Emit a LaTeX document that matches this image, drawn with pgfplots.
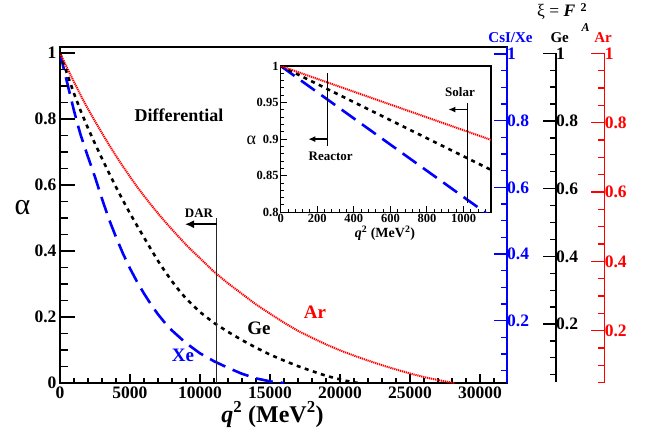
\documentclass[border=0pt]{standalone}
\usepackage{fontspec}
\setmainfont{Liberation Serif}
\usepackage{pgfplots}
\usepackage{pgfplotstable}
\pgfplotsset{compat=1.18}
\usetikzlibrary{arrows.meta}

\pgfplotstableread{
q a
0 1
250 0.956
500 0.912
750 0.868
1000 0.825
1250 0.785
1500 0.748
2000 0.685
2500 0.624
3000 0.558
3500 0.496
4000 0.442
4500 0.392
5000 0.347
5500 0.307
6000 0.271
6500 0.238
7000 0.208
7500 0.182
8000 0.159
9000 0.121
10000 0.090
11000 0.066
12000 0.046
13000 0.028
14000 0.014
15000 0.005
15500 0.002
16000 0
}\xedata

\pgfplotstableread{
q a
0 1
500 0.938
1000 0.877
1500 0.822
2000 0.772
2500 0.725
3000 0.680
3500 0.636
4000 0.594
4500 0.553
5000 0.514
5500 0.477
6000 0.441
6500 0.405
7000 0.370
7500 0.338
8000 0.308
8500 0.281
9000 0.256
10000 0.215
11000 0.182
12000 0.155
13000 0.130
14000 0.107
15000 0.086
16000 0.068
17000 0.051
18000 0.036
19000 0.022
20000 0.011
20500 0.006
21000 0.002
21300 0
}\gedata

\pgfplotstableread{
q a
0 1
500 0.955
1000 0.912
1500 0.870
2000 0.830
2500 0.793
3000 0.757
3500 0.722
4000 0.688
4500 0.656
5000 0.625
5500 0.595
6000 0.567
6500 0.540
7000 0.514
7500 0.489
8000 0.465
8500 0.442
9000 0.419
9500 0.398
10000 0.378
11000 0.337
12000 0.302
13000 0.270
14000 0.238
15000 0.210
16000 0.183
17000 0.158
18000 0.137
19000 0.117
20000 0.099
21000 0.083
22000 0.068
23000 0.054
24000 0.041
25000 0.029
26000 0.018
27000 0.009
27500 0.005
28000 0.001
28200 0
}\ardata

\pgfplotstableread{
q a
0 1
1150 0.794
}\xeinset
\pgfplotstableread{
q a
0 1
1150 0.858
}\geinset
\pgfplotstableread{
q a
0 1
1150 0.899
}\arinset

\newcommand{\fs}[1]{\fontsize{#1}{#1}\selectfont}

\begin{document}
\begin{tikzpicture}
\useasboundingbox (0,0) rectangle (654pt,437pt);
\pgfplotsset{
  every axis/.append style={scale only axis, anchor=south west,
    /pgf/number format/assume math mode=true, /pgf/number format/1000 sep={}},
  xestyle/.style={blue, line width=2.6pt, dash pattern=on 17pt off 8pt, line cap=butt},
  gestyle/.style={black, line width=2.6pt, dash pattern=on 4pt off 4.5pt, line cap=butt},
  arstyle/.style={red, line width=2pt, dash pattern=on 1.2pt off 0.8pt, line cap=butt},
}

% ---------- main axis: frame, x ticks, curves
\begin{axis}[at={(60pt,54pt)}, width=447pt, height=336pt,
  xmin=0, xmax=31930, ymin=0, ymax=1.018,
  axis line style={line width=1.8pt},
  xtick={0,5000,...,30000}, minor xtick={0,1000,...,31000},
  xtick pos=left, ytick=\empty, tick align=inside,
  major tick length=9pt, minor tick length=5pt,
  every tick/.style={black, line width=1.3pt},
  xticklabel style={font=\bfseries\fs{17.5}},
  scaled x ticks=false]
\addplot[xestyle] table[x=q,y=a]{\xedata};
\addplot[gestyle] table[x=q,y=a]{\gedata};
\addplot[arstyle] table[x=q,y=a]{\ardata};
\draw[line width=1.5pt, black!85] (axis cs:11190,0) -- (axis cs:11190,0.5);
\draw[line width=1.5pt, -{Latex[length=9pt,width=8pt]}] (axis cs:11190,0.481) -- (axis cs:8930,0.481);
\end{axis}

% ---------- left y ticks
\begin{axis}[at={(60pt,54pt)}, width=447pt, height=336pt,
  xmin=0, xmax=1, ymin=0, ymax=1.018,
  axis line style={draw=none}, xtick=\empty,
  ytick={0,0.2,0.4,0.6,0.8,1}, minor ytick={0,0.05,...,1},
  ytick pos=left, tick align=inside,
  major tick length=15pt, minor tick length=8pt,
  every tick/.style={black, line width=1.3pt},
  yticklabel style={font=\bfseries\fs{17.5}}]
\end{axis}

% ---------- CsI/Xe axis (blue)
\begin{axis}[at={(496.7pt,54pt)}, width=10pt, height=336pt,
  xmin=0, xmax=1, ymin=0.013, ymax=1.021,
  axis x line=none, axis y line*=right,
  axis line style={-, draw=blue, line width=1.8pt},
  ytick={0.2,0.4,0.6,0.8,1}, minor ytick={0.05,0.1,...,0.96},
  tick align=inside, major tick length=13pt, minor tick length=6pt,
  every tick/.style={blue, line width=1.3pt},
  yticklabel style={blue, font=\bfseries\fs{17.5}, xshift=-3pt}]
\end{axis}

% ---------- Ge axis (black)
\begin{axis}[at={(545.7pt,55.3pt)}, width=10pt, height=328.4pt,
  xmin=0, xmax=1, ymin=0.0295, ymax=1,
  axis x line=none, axis y line*=right,
  axis line style={-, draw=black, line width=1.8pt},
  ytick={0.2,0.4,0.6,0.8,1}, minor ytick={0.05,0.1,...,0.96},
  tick align=inside, major tick length=13pt, minor tick length=6pt,
  every tick/.style={black, line width=1.3pt},
  yticklabel style={black, font=\bfseries\fs{17.5}, xshift=-3pt}]
\end{axis}

% ---------- Ar axis (red)
\begin{axis}[at={(594.3pt,54.3pt)}, width=10pt, height=329.4pt,
  xmin=0, xmax=1, ymin=0.05, ymax=1,
  axis x line=none, axis y line*=right,
  axis line style={-, draw=red, line width=1.6pt},
  ytick={0.2,0.4,0.6,0.8,1}, minor ytick={0.05,0.1,...,0.96},
  tick align=inside, major tick length=13pt, minor tick length=6pt,
  every tick/.style={red, line width=1.3pt},
  yticklabel style={red, font=\bfseries\fs{17.5}, xshift=-3pt}]
\end{axis}

% ---------- inset
\begin{axis}[at={(280.7pt,224.7pt)}, width=210.3pt, height=146.3pt,
  xmin=0, xmax=1150, ymin=0.8, ymax=1,
  axis line style={line width=1.4pt},
  xtick={0,200,...,1000}, minor xtick={0,40,...,1150},
  ytick={0.8,0.85,0.9,0.95,1}, minor ytick={0.8,0.81,...,1},
  tick pos=left, tick align=inside,
  major tick length=6pt, minor tick length=3pt,
  every tick/.style={black, line width=1pt},
  ticklabel style={font=\bfseries\fs{12.5}, inner sep=2pt},
  yticklabel style={/pgf/number format/fixed, /pgf/number format/precision=2}]
\addplot[xestyle] table[x=q,y=a]{\xeinset};
\addplot[gestyle] table[x=q,y=a]{\geinset};
\addplot[arstyle] table[x=q,y=a]{\arinset};
\draw[line width=1.3pt] (axis cs:257,0.89) -- (axis cs:257,0.991);
\draw[line width=1.3pt, -{Latex[length=7pt,width=6pt]}] (axis cs:257,0.9) -- (axis cs:151,0.9);
\draw[line width=1.3pt] (axis cs:1021,0.8125) -- (axis cs:1021,0.95);
\draw[line width=1.3pt, -{Latex[length=7pt,width=6pt]}] (axis cs:1021,0.9405) -- (axis cs:917,0.9405);
\end{axis}

% ---------- texts
\node[font=\bfseries\fs{18}] at (179pt,322pt) {Differential};
\node[font=\bfseries\fs{13}] at (199pt,223.7pt) {DAR};
\node[font=\bfseries\fs{19}, red] at (315pt,125pt) {Ar};
\node[font=\bfseries\fs{19}] at (259pt,108.5pt) {Ge};
\node[font=\bfseries\fs{19}, blue] at (183pt,82pt) {Xe};
\node[font=\bfseries\fs{13}] at (330.7pt,280.3pt) {Reactor};
\node[font=\bfseries\fs{13}] at (460pt,345.3pt) {Solar};
\node[font=\fs{18}] at (251.3pt,296.2pt) {α};
\node[font=\fs{30}] at (22.5pt,229.5pt) {α};
\node[font=\bfseries\fs{24}, anchor=base] at (272.5pt,15pt) {\textit{q}\textsuperscript{2} (MeV\textsuperscript{2})};
\node[font=\bfseries\fs{14}, anchor=base] at (385pt,199pt) {\textit{q}\textsuperscript{2} (MeV\textsuperscript{2})};
\node[font=\bfseries\fs{15}, blue, anchor=base] at (510.5pt,394.3pt) {CsI/Xe};
\node[font=\bfseries\fs{15}, anchor=base] at (559.7pt,394.3pt) {Ge};
\node[font=\bfseries\fs{15}, red, anchor=base] at (603pt,394.3pt) {Ar};
\node[font=\fs{17.5}, anchor=base west, inner sep=0pt] at (537pt,420.3pt) {ξ = \textbf{\textit{F}}};
\node[font=\bfseries\fs{12}, anchor=base west, inner sep=0pt] at (580.5pt,425pt) {2};
\node[font=\bfseries\itshape\fs{12}, anchor=base west, inner sep=0pt] at (581.5pt,405pt) {A};
\end{tikzpicture}
\end{document}
